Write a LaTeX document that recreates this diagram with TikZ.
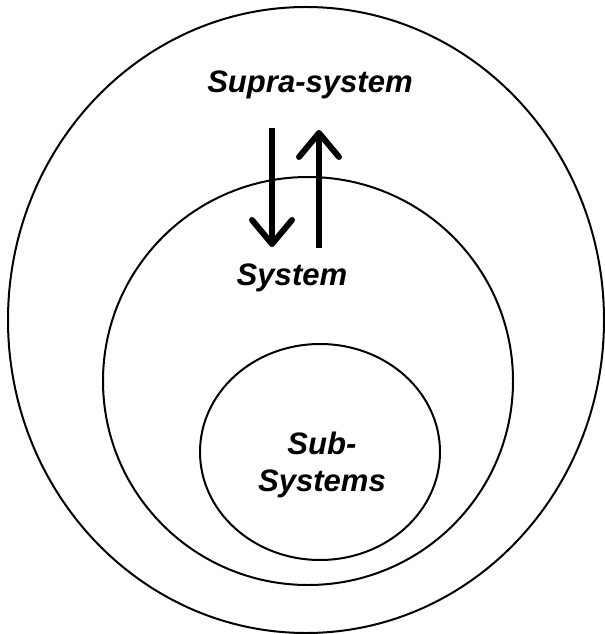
\documentclass[tikz,border=0pt]{standalone}
\usepackage{fontspec}
\newfontfamily\arialfont{Liberation Sans}
\usetikzlibrary{
  arrows.meta,
  positioning
}

\begin{document}
\begin{tikzpicture}[
x=0.75pt,
y=-0.75pt,
ring/.style={
draw,
line width=1.5pt
},
sysname/.style={
font=\arialfont\bfseries\itshape\fontsize{23.3}{27.8}\selectfont,
align=center,
inner sep=0pt
},
flow/.style={
line width=4.5pt,
-{Straight Barb[length=18pt,width=30pt,line width=4.5pt,round]}
}
]

\useasboundingbox (0,0) rectangle (605,634);

\draw[ring] (306,320) ellipse [x radius=223.5pt, y radius=234.75pt];
\draw[ring] (308,381) ellipse [x radius=153.75pt, y radius=153pt];
\draw[ring] (320,452) ellipse [x radius=90pt, y radius=81pt];

\node[sysname,anchor=base] (supra) at (310,93) {Supra-system};
\node[sysname,anchor=base] (sys) at (292,285) {System};
\node[sysname] (sub) at (322,465) {Sub-\\Systems};

\coordinate (dnstart) at (272,128);
\coordinate (dnend) at (272,247);
\coordinate (upstart) at (319,248);
\coordinate (upend) at (319,130);

\draw[flow] (dnstart)--(dnend);
\draw[flow] (upstart)--(upend);

\end{tikzpicture}
\end{document}
